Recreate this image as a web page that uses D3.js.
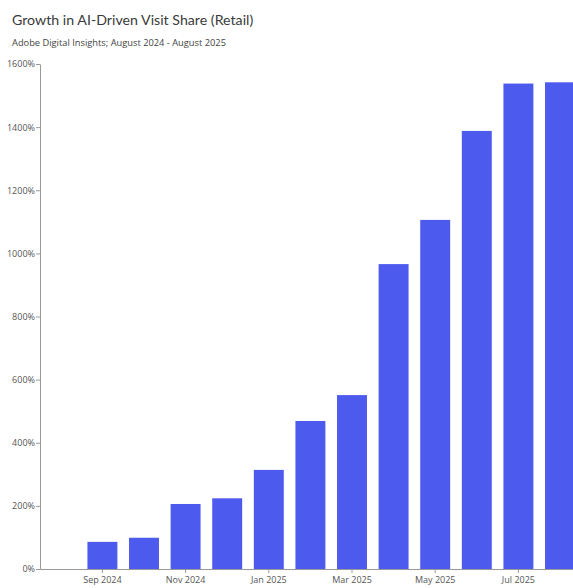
<!DOCTYPE html>
<html>
<head>
<meta charset="utf-8">
<script src="https://cdn.jsdelivr.net/npm/d3@7"></script>
<style>
  html, body { margin: 0; padding: 0; background: #fff; }
  svg { display: block; }
</style>
</head>
<body>
<svg id="chart" width="573" height="588"></svg>
<script>
const months = ["Aug 2024","Sep 2024","Oct 2024","Nov 2024","Dec 2024","Jan 2025","Feb 2025","Mar 2025","Apr 2025","May 2025","Jun 2025","Jul 2025","Aug 2025"];
const growth = [0, 86, 99, 206, 224, 314, 469, 551, 966, 1106, 1388, 1538, 1542];
const xTickLabels = ["Sep 2024","Nov 2024","Jan 2025","Mar 2025","May 2025","Jul 2025"];
const yTicks = [0, 200, 400, 600, 800, 1000, 1200, 1400, 1600];

(function () {
const svg = d3.select("#chart");
const font = "'Open Sans', 'Noto Sans', sans-serif";
const titleFont = "Lato, 'Open Sans', sans-serif";
const mLeft = 40, mTop = 64, mBottom = 569;
const step = 41.6;

const x = d3.scaleBand()
  .domain(months)
  .range([mLeft, mLeft + months.length * step])
  .paddingInner(0.28)
  .paddingOuter(0.14);

const y = d3.scaleLinear().domain([0, 1600]).range([mBottom, mTop]);

// title
svg.append("text")
  .attr("x", 12).attr("y", 25)
  .attr("font-family", titleFont).attr("font-size", 14.2)
  .attr("font-weight", 400)
  .attr("fill", "#3a3a3a")
  .text("Growth in AI-Driven Visit Share (Retail)");
svg.append("text")
  .attr("x", 12).attr("y", 46)
  .attr("font-family", font).attr("font-size", 9.3)
  .attr("fill", "#444")
  .text("Adobe Digital Insights; August 2024 - August 2025");

// bars
svg.append("g").selectAll("rect")
  .data(months.map((m, i) => ({ m, v: growth[i] })))
  .join("rect")
  .attr("x", d => x(d.m))
  .attr("width", x.bandwidth())
  .attr("y", d => y(d.v))
  .attr("height", d => y(0) - y(d.v))
  .attr("fill", "#4c5bed");

// y axis
const yAxis = svg.append("g")
  .attr("transform", `translate(${mLeft},0)`)
  .call(d3.axisLeft(y).tickValues(yTicks).tickFormat(d => d + "%").tickSize(4).tickSizeOuter(0));
yAxis.select(".domain").attr("stroke", "#999");
yAxis.selectAll(".tick line").attr("stroke", "#999");
yAxis.selectAll(".tick text")
  .attr("font-family", font).attr("font-size", 9)
  .attr("fill", "#555").attr("x", -5);

// x axis
const xAxis = svg.append("g")
  .attr("transform", `translate(0,${mBottom})`)
  .call(d3.axisBottom(x).tickValues(xTickLabels).tickSize(4).tickSizeOuter(0));
xAxis.select(".domain").attr("stroke", "#999");
xAxis.selectAll(".tick line").attr("stroke", "#999");
xAxis.selectAll(".tick text")
  .attr("font-family", font).attr("font-size", 9)
  .attr("fill", "#555").attr("y", 8);
})();
</script>
</body>
</html>
